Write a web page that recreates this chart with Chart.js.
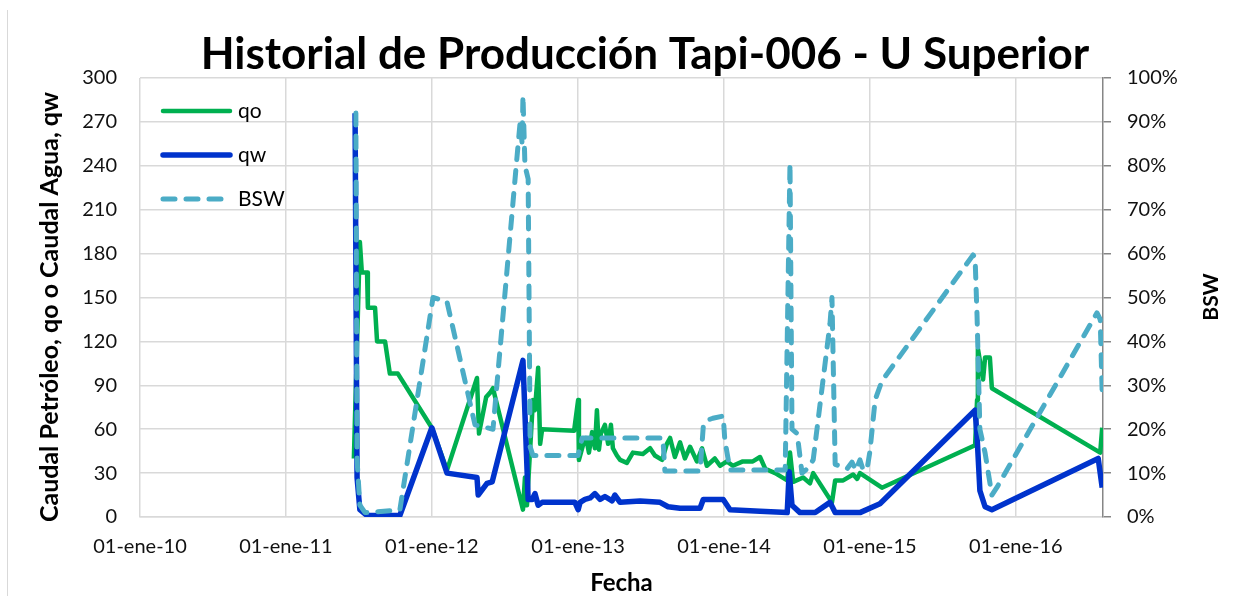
<!DOCTYPE html>
<html lang="es">
<head>
<meta charset="utf-8">
<title>Historial de Producción Tapi-006 - U Superior</title>
<script src="https://cdn.jsdelivr.net/npm/chart.js@4.4.1/dist/chart.umd.min.js"></script>
<style>
  html, body { margin: 0; padding: 0; background: #fff; }
</style>
</head>
<body>
<canvas id="grafico" width="1248" height="596"></canvas>
<script>
// Fechas como número de serie de Excel (01-ene-10 = 40179)
const ticksFecha = [40179, 40544, 40909, 41275, 41640, 42005, 42370];
const etiquetasFecha = ['01-ene-10', '01-ene-11', '01-ene-12', '01-ene-13', '01-ene-14', '01-ene-15', '01-ene-16'];

// qo - caudal de petróleo
const fechasQo = [40714, 40729, 40734, 40747, 40749, 40767, 40772, 40792, 40804, 40824,
  40909, 40947, 41022, 41027, 41045, 41055, 41062, 41137, 41142, 41147,
  41162, 41167, 41175, 41180, 41185, 41265, 41275, 41277, 41287, 41295,
  41302, 41310, 41317, 41322, 41327, 41332, 41342, 41350, 41357, 41362,
  41372, 41380, 41397, 41412, 41437, 41455, 41467, 41485, 41497, 41505,
  41517, 41530, 41542, 41555, 41572, 41585, 41597, 41617, 41630, 41647,
  41662, 41687, 41712, 41730, 41743, 41768, 41798, 41805, 41813, 41838,
  41855, 41863, 41910, 41918, 41938, 41963, 41973, 41980, 42035, 42268,
  42273, 42275, 42288, 42293, 42305, 42310, 42581, 42586];
const qo = [40, 188, 167, 167, 143, 143, 120, 120, 98, 98,
  61, 32, 95, 57, 82, 85, 88, 5, 27, 8,
  80, 73, 102, 50, 60, 59, 80, 39, 49, 54,
  44, 58, 47, 73, 46, 57, 63, 50, 63, 47,
  42, 39, 37, 44, 43, 47, 42, 39, 50, 54,
  41, 51, 40, 48, 38, 47, 35, 40, 35, 38,
  35, 38, 38, 41, 33, 30, 25, 44, 24, 27,
  23, 30, 10, 25, 25, 29, 26, 30, 20, 49,
  80, 115, 94, 109, 109, 88, 44, 61];

// qw - caudal de agua
const fechasQw = [40717, 40722, 40729, 40747, 40829, 40909, 40947, 41022, 41025, 41047,
  41060, 41137, 41150, 41160, 41167, 41175, 41185, 41267, 41275, 41280,
  41292, 41305, 41317, 41330, 41342, 41360, 41367, 41380, 41430, 41480,
  41500, 41530, 41580, 41588, 41638, 41655, 41730, 41798, 41803, 41810,
  41830, 41868, 41905, 41918, 41980, 42030, 42268, 42273, 42280, 42293,
  42310, 42576, 42586];
const qw = [276, 27, 5, 1, 1, 61, 30, 27, 15, 23,
  24, 107, 12, 12, 16, 8, 10, 10, 5, 10,
  12, 13, 16, 12, 14, 11, 15, 10, 11, 10,
  7, 6, 6, 12, 12, 5, 4, 3, 31, 8,
  3, 3, 10, 3, 3, 9, 73, 55, 18, 7,
  5, 40, 20];

// BSW (fracción)
const fechasBsw = [40719, 40722, 40729, 40742, 40829, 40834, 40912, 40947, 41017, 41062,
  41125, 41130, 41135, 41137, 41142, 41150, 41155, 41162, 41275, 41285,
  41487, 41492, 41580, 41588, 41597, 41612, 41638, 41642, 41655, 41793,
  41805, 41810, 41823, 41835, 41848, 41863, 41905, 41910, 41918, 41948,
  41960, 41970, 41980, 41988, 41998, 42005, 42018, 42035, 42263, 42268,
  42273, 42280, 42293, 42310, 42323, 42573, 42581, 42586];
const bsw = [0.92, 0.13, 0.027, 0.01, 0.016, 0.045, 0.50, 0.49, 0.21, 0.20,
  0.85, 0.90, 0.85, 0.96, 0.80, 0.77, 0.16, 0.14, 0.14, 0.18,
  0.18, 0.105, 0.105, 0.205, 0.22, 0.225, 0.23, 0.175, 0.107, 0.107,
  0.806, 0.20, 0.19, 0.10, 0.11, 0.13, 0.44, 0.50, 0.12, 0.11,
  0.125, 0.107, 0.13, 0.107, 0.11, 0.15, 0.267, 0.31, 0.597, 0.59,
  0.456, 0.20, 0.146, 0.05, 0.068, 0.465, 0.45, 0.28];

const titulo = 'Historial de Producción Tapi-006 - U Superior';
const tituloY = 'Caudal Petróleo, qo o Caudal Agua, qw';
const tituloY1 = 'BSW';
const tituloX = 'Fecha';

const puntos = (fechas, valores) => fechas.map((f, i) => ({ x: f, y: valores[i] }));

Chart.defaults.font.family = 'Lato';
Chart.defaults.color = '#111';

// Títulos, leyenda y borde del gráfico
const decorado = {
  id: 'decorado',
  beforeDraw(chart) {
    const ctx = chart.ctx;
    ctx.save();
    ctx.fillStyle = '#fff';
    ctx.fillRect(0, 0, chart.width, chart.height);
    ctx.strokeStyle = '#D9D9D9';
    ctx.lineWidth = 1;
    ctx.beginPath();
    ctx.moveTo(7.5, 10);
    ctx.lineTo(7.5, chart.height);
    ctx.stroke();
    ctx.restore();
  },
  afterDraw(chart) {
    const ctx = chart.ctx;
    const area = chart.chartArea;
    ctx.save();
    ctx.fillStyle = '#000';
    ctx.textAlign = 'center';
    ctx.textBaseline = 'middle';
    ctx.font = 'bold 44px Lato';
    ctx.fillText(titulo, 645, 55);

    ctx.font = 'bold 24px Lato';
    ctx.fillText(tituloX, (area.left + area.right) / 2, 583);

    ctx.save();
    ctx.translate(50, 307);
    ctx.rotate(-Math.PI / 2);
    ctx.font = 'bold 25px Lato';
    ctx.fillText(tituloY, 0, 0);
    ctx.restore();

    ctx.save();
    ctx.translate(1211, 297);
    ctx.rotate(-Math.PI / 2);
    ctx.font = 'bold 21px Lato';
    ctx.fillText(tituloY1, 0, 0);
    ctx.restore();

    // leyenda dentro del área de trazado
    ctx.textAlign = 'left';
    ctx.font = '21px Lato';
    chart.data.datasets.forEach((ds, i) => {
      const y = 111 + i * 44;
      ctx.save();
      ctx.strokeStyle = ds.borderColor;
      ctx.lineWidth = ds.borderWidth;
      ctx.lineCap = 'round';
      ctx.setLineDash(ds.borderDash || []);
      ctx.beginPath();
      ctx.moveTo(163, y);
      ctx.lineTo(ds.borderDash ? 226 : 230, y);
      ctx.stroke();
      ctx.restore();
      ctx.fillText(ds.label, 238, y);
    });
    ctx.restore();
  }
};

new Chart(document.getElementById('grafico'), {
  type: 'line',
  data: {
    datasets: [
      {
        label: 'qo',
        data: puntos(fechasQo, qo),
        yAxisID: 'y',
        borderColor: '#00B050',
        borderWidth: 4.5,
        order: 3
      },
      {
        label: 'qw',
        data: puntos(fechasQw, qw),
        yAxisID: 'y',
        borderColor: '#0033CC',
        borderWidth: 5.5,
        order: 2
      },
      {
        label: 'BSW',
        data: puntos(fechasBsw, bsw),
        yAxisID: 'y1',
        borderColor: '#4BACC6',
        borderWidth: 5,
        borderDash: [12, 11],
        borderCapStyle: 'round',
        order: 1
      }
    ]
  },
  options: {
    responsive: false,
    animation: false,
    layout: { padding: { top: 78, left: 0, right: 0, bottom: 0 } },
    elements: {
      point: { radius: 0, hoverRadius: 0 },
      line: { tension: 0, borderJoinStyle: 'round', fill: false }
    },
    plugins: {
      legend: { display: false },
      title: { display: false },
      tooltip: { enabled: false }
    },
    scales: {
      x: {
        type: 'linear',
        min: 40179,
        max: 42588,
        afterFit: s => { s.height = 79; },
        afterBuildTicks: s => { s.ticks = ticksFecha.map(v => ({ value: v })); },
        ticks: {
          autoSkip: false,
          maxRotation: 0,
          padding: 18,
          font: { size: 20 },
          callback: (v, i) => etiquetasFecha[i]
        },
        grid: { color: '#D9D9D9', lineWidth: 1.5, drawTicks: false },
        border: { color: '#D9D9D9', width: 1.5 }
      },
      y: {
        position: 'left',
        min: 0,
        max: 300,
        afterFit: s => { s.width = 140; },
        ticks: { stepSize: 30, padding: 23, font: { size: 20 } },
        grid: { color: '#D9D9D9', lineWidth: 1.5, drawTicks: false },
        border: { display: false }
      },
      y1: {
        position: 'right',
        min: 0,
        max: 1,
        afterFit: s => { s.width = 145; },
        ticks: {
          stepSize: 0.1,
          padding: 16,
          font: { size: 20 },
          callback: v => Math.round(v * 100) + '%'
        },
        grid: { drawOnChartArea: false, drawTicks: true, tickLength: 8, tickColor: '#868686', lineWidth: 1.5 },
        border: { color: '#868686', width: 1.5 }
      }
    }
  },
  plugins: [decorado]
});
</script>
</body>
</html>
